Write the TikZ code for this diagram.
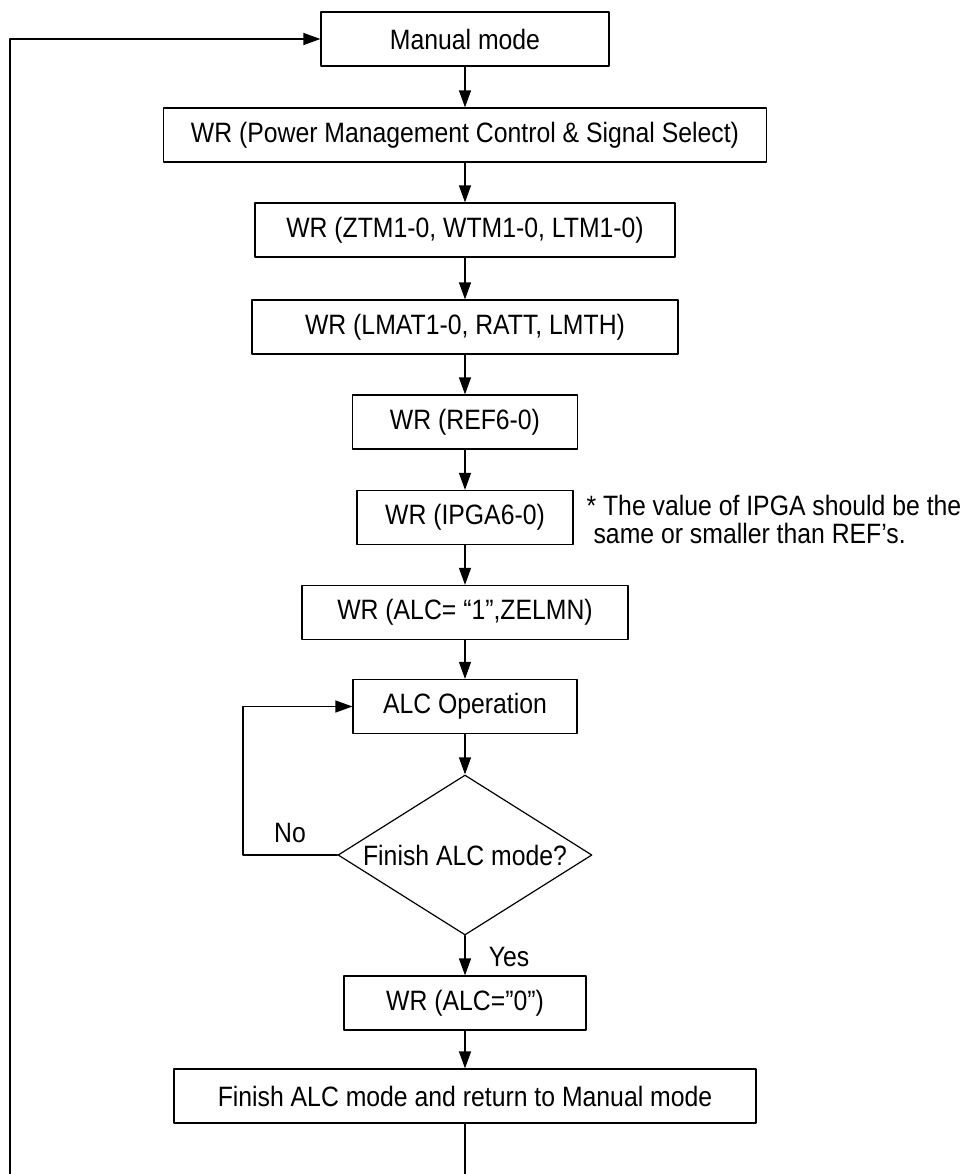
\documentclass[tikz,border=0pt]{standalone}
\usepackage{fontspec}
\setmainfont{Liberation Sans}[FakeStretch=0.885]
\usetikzlibrary{arrows.meta,shapes.geometric}
\begin{document}
\begin{tikzpicture}[font=\fontsize{14}{14}\selectfont, line join=round, line cap=round, >={Triangle[length=8.5pt,width=6pt]}, line width=0.6pt, x=0.5pt, y=-0.5pt,
	khoi/.style={draw, rectangle, minimum height=27pt, inner sep=0pt},
	hoi/.style={draw, diamond, aspect=1.5875, minimum width=127pt, minimum height=80pt, inner sep=0pt}]
	%Giới hạn hình.
	\useasboundingbox (0,0) rectangle (961,1174);
	\clip (0,0) rectangle (961,1174);
	%Các khối.
	\node[khoi, minimum width=144pt] (manual) at (465,39) {Manual mode};
	\node[khoi, minimum width=301.5pt] (power) at (465,135) {WR (Power Management Control \& Signal Select)};
	\node[khoi, minimum width=210pt] (ztm) at (465,230) {WR (ZTM1-0, WTM1-0, LTM1-0)};
	\node[khoi, minimum width=213pt] (lmat) at (465,327) {WR (LMAT1-0, RATT, LMTH)};
	\node[khoi, minimum width=112.5pt] (ref) at (465,422) {WR (REF6-0)};
	\node[khoi, minimum width=108pt] (ipga) at (465,517.5) {WR (IPGA6-0)};
	\node[khoi, minimum width=163pt] (alcmot) at (465,612.5) {WR (ALC= “1”,ZELMN)};
	\node[khoi, minimum width=112pt] (alcop) at (465,706.5) {ALC Operation};
	\node[hoi] (xong) at (465,855) {Finish ALC mode?};
	\node[khoi, minimum width=121pt] (alckhong) at (465,1003) {WR (ALC=”0”)};
	\node[khoi, minimum width=291pt] (finish) at (465,1096) {Finish ALC mode and return to Manual mode};
	%Ghi chú.
	\node[anchor=west, align=left, inner sep=0pt] (ghichu) at (586,519) {* The value of IPGA should be the\\\hspace*{3.5pt}same or smaller than REF’s.};
	\node (no) at (290,833) {No};
	\node (yes) at (509,957) {Yes};
	%Mũi tên.
	\draw[->] (manual) -- (power);
	\draw[->] (power) -- (ztm);
	\draw[->] (ztm) -- (lmat);
	\draw[->] (lmat) -- (ref);
	\draw[->] (ref) -- (ipga);
	\draw[->] (ipga) -- (alcmot);
	\draw[->] (alcmot) -- (alcop);
	\draw[->] (alcop) -- (xong);
	\draw[->] (xong) -- (alckhong);
	\draw[->] (alckhong) -- (finish);
	%Vòng lặp.
	\coordinate (vong) at (243,706.5);
	\draw[->] (xong.west) -| (vong) -- (alcop.west);
	\coordinate (day) at (465,1200);
	\coordinate (goc) at (10,1200);
	\draw[->] (finish.south) -- (day) -- (goc) |- (manual.west);
\end{tikzpicture}
\end{document}
